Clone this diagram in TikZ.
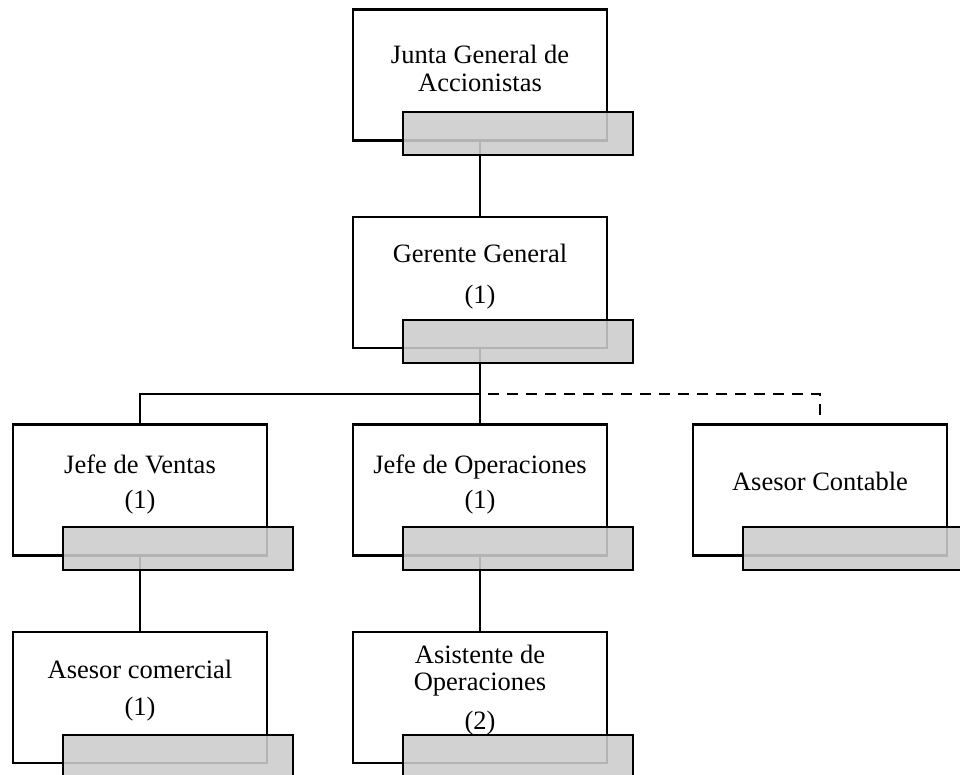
\documentclass[tikz,border=0pt]{standalone}
\usepackage{fontspec}
\setmainfont{Liberation Serif}
\begin{document}
\begin{tikzpicture}[x=1pt,y=-1pt,
  wbox/.style={draw=black,fill=white,line width=2.2pt,minimum width=254pt,minimum height=131pt,inner sep=0pt,outer sep=0pt},
  gbox/.style={draw=black,fill={rgb,255:red,204;green,204;blue,204},fill opacity=0.88,line width=2.2pt,minimum width=230pt,minimum height=43pt,inner sep=0pt,outer sep=0pt},
  conn/.style={line width=2.2pt},
  lbl/.style={anchor=base,inner sep=0pt,font=\fontsize{26.5}{29}\selectfont}]
\useasboundingbox (0,0) rectangle (960,774);
\clip (0,0) rectangle (960,774);
% white boxes
\node[wbox] (junta) at (480,75) {};
\node[wbox] (gerente) at (480,282.5) {};
\node[wbox] (jv) at (140,490) {};
\node[wbox] (jo) at (480,490) {};
\node[wbox] (ac) at (820,490) {};
\node[wbox] (acom) at (140,697.5) {};
\node[wbox] (asis) at (480,697.5) {};
% connectors
\coordinate (bus) at (480,394);
\draw[conn] (junta.south) -- (gerente.north);
\draw[conn] (gerente.south) -- (jo.north);
\draw[conn] (jv.north) |- (bus);
\draw[conn,dash pattern=on 11pt off 8pt,dash phase=11pt] (bus) -| (ac.north);
\draw[conn] (jv.south) -- (acom.north);
\draw[conn] (jo.south) -- (asis.north);
% gray bars
\node[gbox] (junta g) at (518,133.5) {};
\node[gbox] (gerente g) at (518,341.5) {};
\node[gbox] (jv g) at (178,548.5) {};
\node[gbox] (jo g) at (518,548.5) {};
\node[gbox] (ac g) at (858,548.5) {};
\node[gbox] (acom g) at (178,756.5) {};
\node[gbox] (asis g) at (518,756.5) {};
% texts
\node[lbl] (t1a) at (480,63) {Junta General de};
\node[lbl] (t1b) at (480,91) {Accionistas};
\node[lbl] (t2a) at (480,262) {Gerente General};
\node[lbl] (t2b) at (480,303) {(1)};
\node[lbl] (t3a) at (140,473) {Jefe de Ventas};
\node[lbl] (t3b) at (140,508) {(1)};
\node[lbl] (t4a) at (480,473) {Jefe de Operaciones};
\node[lbl] (t4b) at (480,508) {(1)};
\node[lbl] (t5a) at (820,490) {Asesor Contable};
\node[lbl] (t6a) at (140,678) {Asesor comercial};
\node[lbl] (t6b) at (140,715) {(1)};
\node[lbl] (t7a) at (480,663) {Asistente de};
\node[lbl] (t7b) at (480,690) {Operaciones};
\node[lbl] (t7c) at (480,729) {(2)};
\end{tikzpicture}
\end{document}
